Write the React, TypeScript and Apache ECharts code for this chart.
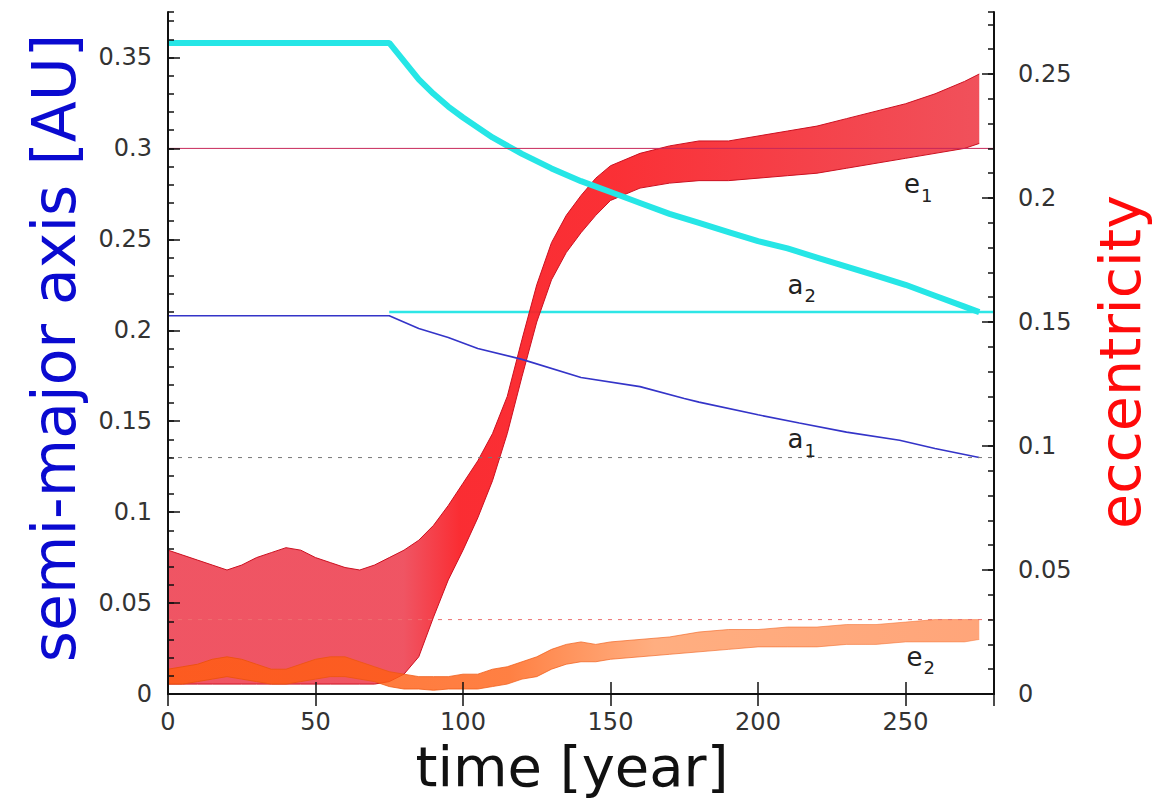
import React, { useEffect, useRef } from "react";
import * as echarts from "echarts";

const FONT = "DejaVu Sans";

// axes
const X_MIN = 0;
const X_MAX = 280;
const X_STEP = 50;
const A_MAX = 0.375;
const E_MAX = 0.275;

// a2 (outer planet semi-major axis)
const a2Years = [0, 75, 80, 85, 90, 95, 100, 110, 120, 130, 140, 150, 160, 170, 180, 190, 200, 210, 220, 230, 240, 250, 260, 270, 275];
const a2Values = [0.358, 0.358, 0.348, 0.338, 0.33, 0.323, 0.317, 0.306, 0.297, 0.289, 0.282, 0.276, 0.27, 0.264, 0.259, 0.254, 0.249, 0.245, 0.24, 0.235, 0.23, 0.225, 0.219, 0.213, 0.21];

// a1 (inner planet semi-major axis)
const a1Years = [0, 75, 85, 95, 105, 120, 140, 160, 175, 180, 200, 214, 230, 248, 260, 275];
const a1Values = [0.208, 0.208, 0.201, 0.196, 0.19, 0.184, 0.174, 0.169, 0.1625, 0.1605, 0.1535, 0.149, 0.144, 0.1395, 0.135, 0.13];

// e1 envelope
const e1Years = [0, 5, 10, 15, 20, 25, 30, 35, 40, 45, 50, 55, 60, 65, 70, 75, 80, 85, 90, 95, 100, 105, 110, 115, 120, 125, 130, 135, 140, 145, 150, 160, 170, 180, 190, 200, 210, 220, 230, 240, 250, 260, 270, 275];
const e1Low = [0.004, 0.004, 0.004, 0.004, 0.004, 0.004, 0.004, 0.004, 0.004, 0.004, 0.004, 0.004, 0.004, 0.004, 0.004, 0.005, 0.008, 0.015, 0.031, 0.046, 0.058, 0.071, 0.086, 0.105, 0.128, 0.15, 0.167, 0.178, 0.186, 0.193, 0.199, 0.204, 0.206, 0.207, 0.207, 0.208, 0.209, 0.21, 0.212, 0.214, 0.216, 0.218, 0.22, 0.222];
const e1High = [0.058, 0.056, 0.054, 0.052, 0.05, 0.052, 0.055, 0.057, 0.059, 0.058, 0.055, 0.053, 0.051, 0.05, 0.052, 0.055, 0.058, 0.062, 0.068, 0.076, 0.085, 0.094, 0.105, 0.12, 0.143, 0.165, 0.182, 0.193, 0.201, 0.208, 0.213, 0.218, 0.221, 0.223, 0.223, 0.225, 0.227, 0.229, 0.232, 0.235, 0.238, 0.242, 0.247, 0.25];

// e2 envelope
const e2Years = [0, 5, 10, 15, 20, 25, 30, 35, 40, 45, 50, 55, 60, 65, 70, 75, 80, 85, 90, 95, 100, 105, 110, 115, 120, 125, 130, 135, 140, 145, 150, 160, 170, 180, 190, 200, 210, 220, 230, 240, 250, 260, 270, 275];
const e2Low = [0.004, 0.004, 0.005, 0.006, 0.007, 0.006, 0.005, 0.004, 0.004, 0.005, 0.006, 0.007, 0.007, 0.006, 0.005, 0.003, 0.002, 0.002, 0.0015, 0.002, 0.002, 0.002, 0.003, 0.004, 0.006, 0.007, 0.01, 0.012, 0.013, 0.013, 0.014, 0.015, 0.016, 0.017, 0.018, 0.019, 0.019, 0.019, 0.02, 0.02, 0.021, 0.021, 0.021, 0.022];
const e2High = [0.01, 0.011, 0.012, 0.014, 0.015, 0.014, 0.012, 0.01, 0.01, 0.012, 0.014, 0.015, 0.015, 0.013, 0.011, 0.009, 0.008, 0.007, 0.007, 0.007, 0.008, 0.008, 0.01, 0.011, 0.013, 0.015, 0.018, 0.02, 0.021, 0.02, 0.021, 0.022, 0.023, 0.025, 0.026, 0.026, 0.027, 0.027, 0.028, 0.028, 0.029, 0.03, 0.03, 0.03];

// reference levels
const refE1 = 0.22;
const refA2 = 0.21;
const refA2Start = 75;
const refA1 = 0.13;
const refE2 = 0.03;

// curve labels: [main, subscript, year, value, axis]
const curveLabels: [string, string, number, number, "a" | "e"][] = [
  ["e", "1", 249.5, 0.2004, "e"],
  ["a", "2", 210, 0.218, "a"],
  ["a", "1", 210, 0.133, "a"],
  ["e", "2", 250.3, 0.0097, "e"],
];

const pairs = (xs: number[], ys: number[]) => xs.map((x, i) => [x, ys[i]]);

function bandSeries(name: string, xs: number[], lo: number[], hi: number[], fill: any, stroke: any, z: number) {
  return {
    type: "custom",
    name,
    xAxisIndex: 0,
    yAxisIndex: 2,
    z,
    silent: true,
    data: [[xs[0], lo[0]]],
    encode: { x: 0, y: 1 },
    renderItem: (_params: any, api: any) => {
      const upper = xs.map((x, i) => api.coord([x, hi[i]]));
      const lower = xs.map((x, i) => api.coord([x, lo[i]]));
      return {
        type: "group",
        children: [
          { type: "polygon", shape: { points: upper.concat(lower.slice().reverse()) }, style: { fill, stroke: "none" } },
          { type: "polyline", shape: { points: upper }, style: { stroke, fill: "none", lineWidth: 1 } },
          { type: "polyline", shape: { points: lower }, style: { stroke, fill: "none", lineWidth: 1 } },
        ],
      };
    },
  };
}

export default function App() {
  const ref = useRef<HTMLDivElement>(null);
  useEffect(() => {
    if (!ref.current) return;
    const chart = echarts.init(ref.current, null, { renderer: "svg" });
    const tickStyle = { color: "#111", width: 1.5 };
    const lineAxis = { show: true, lineStyle: { color: "#111", width: 2 } };
    const labelStyle = { fontFamily: FONT, fontSize: 24, color: "#333" };
    const line = (color: string, width: number, extra: any = {}) => ({
      type: "line",
      showSymbol: false,
      symbol: "none",
      silent: true,
      lineStyle: { color, width, ...extra },
    });
    const e1Fill = new echarts.graphic.LinearGradient(0, 0, 1, 0, [
      { offset: 0, color: "rgba(238,70,86,0.92)" },
      { offset: 0.29, color: "rgba(238,70,86,0.92)" },
      { offset: 0.36, color: "rgba(250,34,40,0.95)" },
      { offset: 0.55, color: "rgba(250,30,36,0.92)" },
      { offset: 1, color: "rgba(238,50,62,0.85)" },
    ]);
    const e2Fill = new echarts.graphic.LinearGradient(0, 0, 1, 0, [
      { offset: 0, color: "rgba(255,92,20,0.85)" },
      { offset: 0.42, color: "rgba(255,96,20,0.8)" },
      { offset: 0.6, color: "rgba(255,120,44,0.6)" },
      { offset: 1, color: "rgba(255,110,40,0.62)" },
    ]);
    const e2Stroke = new echarts.graphic.LinearGradient(0, 0, 1, 0, [
      { offset: 0, color: "rgba(235,80,10,0.9)" },
      { offset: 0.5, color: "rgba(240,90,20,0.7)" },
      { offset: 1, color: "rgba(245,120,60,0.5)" },
    ]);
    chart.setOption({
      animation: false,
      backgroundColor: "#fff",
      grid: { left: 168, right: 159, top: 12, bottom: 105, containLabel: false },
      xAxis: [
        {
          type: "value",
          min: X_MIN,
          max: X_MAX,
          interval: X_STEP,
          position: "bottom",
          z: 10,
          axisLine: lineAxis,
          axisTick: { inside: true, length: 12, lineStyle: tickStyle },
          axisLabel: { ...labelStyle, margin: 16, showMaxLabel: false },
          splitLine: { show: false },
        },
        {
          type: "value",
          min: X_MIN,
          max: X_MAX,
          interval: X_STEP,
          position: "top",
          z: 10,
          axisLine: lineAxis,
          axisTick: { inside: true, length: 12, lineStyle: tickStyle },
          axisLabel: { show: false },
          splitLine: { show: false },
        },
      ],
      yAxis: [
        {
          type: "value",
          min: 0,
          max: A_MAX,
          interval: 0.05,
          position: "left",
          z: 10,
          axisLine: lineAxis,
          axisTick: { inside: true, length: 12, lineStyle: tickStyle },
          axisLabel: { ...labelStyle, margin: 16, showMaxLabel: false },
          splitLine: { show: false },
        },
        {
          type: "value",
          min: 0,
          max: A_MAX,
          interval: 0.01,
          position: "left",
          z: 10,
          axisLine: { show: false },
          axisTick: { inside: true, length: 6, lineStyle: tickStyle },
          axisLabel: { show: false },
          splitLine: { show: false },
        },
        {
          type: "value",
          min: 0,
          max: E_MAX,
          interval: 0.05,
          position: "right",
          z: 10,
          axisLine: lineAxis,
          axisTick: { inside: true, length: 12, lineStyle: tickStyle },
          axisLabel: { ...labelStyle, margin: 24, showMaxLabel: false },
          splitLine: { show: false },
        },
        {
          type: "value",
          min: 0,
          max: E_MAX,
          interval: 0.01,
          position: "right",
          z: 10,
          axisLine: { show: false },
          axisTick: { inside: true, length: 6, lineStyle: tickStyle },
          axisLabel: { show: false },
          splitLine: { show: false },
        },
      ],
      series: [
        { ...line("#2ee6e6", 2.5), name: "a2 final", yAxisIndex: 0, z: 1, data: [[refA2Start, refA2], [X_MAX, refA2]] },
        bandSeries("e1", e1Years, e1Low, e1High, e1Fill, "#cc1020", 2),
        bandSeries("e2", e2Years, e2Low, e2High, e2Fill, e2Stroke, 3),
        { ...line("#3434c8", 1.6), name: "a1", yAxisIndex: 0, z: 4, data: pairs(a1Years, a1Values) },
        { ...line("#26e6e6", 6), name: "a2", yAxisIndex: 0, z: 5, data: pairs(a2Years, a2Values) },
        { ...line("#c8285a", 1), name: "e1 ref", yAxisIndex: 2, z: 6, data: [[X_MIN, refE1], [X_MAX, refE1]] },
        { ...line("#777", 1, { type: [4, 6] }), name: "a1 ref", yAxisIndex: 0, z: 6, data: [[X_MIN, refA1], [X_MAX, refA1]] },
        { ...line("#ee7070", 1, { type: [4, 6] }), name: "e2 ref", yAxisIndex: 2, z: 6, data: [[X_MIN, refE2], [X_MAX, refE2]] },
      ],
    });

    const graphics: any[] = [
      {
        type: "text",
        x: 54,
        y: 348,
        z: 100,
        rotation: Math.PI / 2,
        style: { text: "semi-major axis [AU]", fontFamily: FONT, fontSize: 60, fill: "#0a0ad0", align: "center", verticalAlign: "middle" },
      },
      {
        type: "text",
        x: 1120,
        y: 362,
        z: 100,
        rotation: Math.PI / 2,
        style: { text: "eccentricity", fontFamily: FONT, fontSize: 57, fill: "#ff0a0a", align: "center", verticalAlign: "middle" },
      },
      {
        type: "text",
        x: 572,
        y: 766,
        z: 100,
        style: { text: "time [year]", fontFamily: FONT, fontSize: 56, fill: "#111", align: "center", verticalAlign: "middle" },
      },
    ];
    curveLabels.forEach(([main, sub, t, v, axis]) => {
      const p = chart.convertToPixel({ xAxisIndex: 0, yAxisIndex: axis === "a" ? 0 : 2 }, [t, v]) as number[];
      graphics.push({
        type: "text",
        x: p[0],
        y: p[1],
        z: 100,
        style: { text: main, fontFamily: FONT, fontSize: 26, fill: "#222", align: "left", verticalAlign: "bottom" },
      });
      graphics.push({
        type: "text",
        x: p[0] + 17,
        y: p[1] + 7,
        z: 100,
        style: { text: sub, fontFamily: FONT, fontSize: 18, fill: "#222", align: "left", verticalAlign: "bottom" },
      });
    });
    chart.setOption({ graphic: graphics });
    return () => chart.dispose();
  }, []);
  return <div ref={ref} style={{ position: "fixed", left: 0, top: 0, width: 1153, height: 799, background: "#fff" }} />;
}
